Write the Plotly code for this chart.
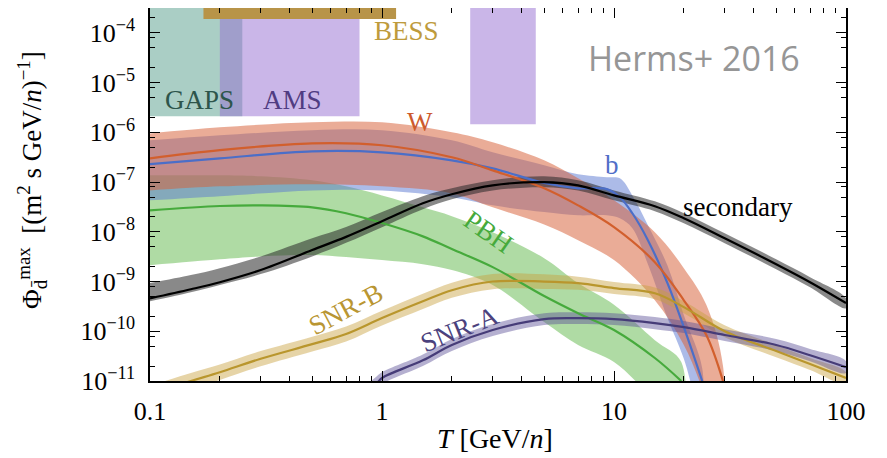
import math
import plotly.graph_objects as go

# ---------------- data (T in GeV/n, flux in (m^2 s GeV/n)^-1) ----------------
sec_T = [0.1, 0.15, 0.2, 0.3, 0.5, 0.7, 1, 1.5, 2, 3, 5, 7, 10, 15, 20, 30, 50, 70, 100]
sec_mid = [4.6e-10, 7.0e-10, 9.7e-10, 1.7e-9, 4.3e-9, 7.9e-9, 1.63e-8, 3.75e-8, 5.7e-8, 8.6e-8,
           1.0e-7, 8.6e-8, 5.4e-8, 3.27e-8, 1.87e-8, 7.4e-9, 2.23e-9, 9.7e-10, 3.7e-10]
sec_hi = [9.3e-10, 1.35e-9, 1.86e-9, 3.2e-9, 7.4e-9, 1.25e-8, 2.5e-8, 5.2e-8, 7.5e-8, 1.09e-7,
          1.31e-7, 1.09e-7, 6.8e-8, 4.1e-8, 2.36e-8, 9.3e-9, 2.8e-9, 1.22e-9, 4.6e-10]
sec_lo = [4.0e-10, 6.1e-10, 8.5e-10, 1.41e-9, 3.2e-9, 6.0e-9, 1.24e-8, 2.85e-8, 4.5e-8, 6.8e-8,
          7.9e-8, 6.8e-8, 4.3e-8, 2.6e-8, 1.48e-8, 5.9e-9, 1.77e-9, 7.7e-10, 2.9e-10]

W_T = [0.1, 0.2, 0.5, 1, 2, 3, 5, 7, 10, 15, 20, 25, 29.5]
W_mid = [3.0e-7, 4.4e-7, 6.0e-7, 5.5e-7, 3.15e-7, 1.72e-7, 7.5e-8, 3.4e-8, 1.24e-8, 2.45e-9,
         4.2e-10, 8.4e-11, 1.0e-11]
W_hi = [9.5e-7, 1.26e-6, 1.59e-6, 1.59e-6, 1.0e-6, 6.3e-7, 2.74e-7, 1.19e-7, 4.3e-8, 9.8e-9,
        1.86e-9, 3.4e-10, 2.0e-11]
W_lo = [6.8e-8, 8.2e-8, 9.0e-8, 8.2e-8, 5.9e-8, 3.1e-8, 1.4e-8, 6.8e-9, 2.7e-9, 4.2e-10,
        5.3e-11, 4.2e-12, 4e-13]

b_T = [0.1, 0.2, 0.5, 1, 2, 3, 5, 7, 9.3, 10.6, 12, 14, 17, 20, 24]
b_mid = [2.3e-7, 3.0e-7, 4.15e-7, 3.96e-7, 2.74e-7, 1.89e-7, 9.6e-8, 7.5e-8, 7.2e-8, 4.95e-8,
         2.36e-8, 6.8e-9, 9.3e-10, 1.21e-10, 1.0e-11]
b_hi = [6.9e-7, 8.7e-7, 1.1e-6, 1.1e-6, 6.9e-7, 3.96e-7, 2.17e-7, 1.43e-7, 1.25e-7, 1.19e-7,
        5.4e-8, 1.36e-8, 2.1e-9, 2.1e-10, 1.8e-11]
b_lo = [4.3e-8, 5.2e-8, 6.8e-8, 6.8e-8, 4.95e-8, 3.4e-8, 2.5e-8, 2.15e-8, 2.15e-8, 1.87e-8,
        1.18e-8, 2.23e-9, 1.84e-10, 2.8e-11, 1.6e-12]

PBH_T = [0.1, 0.2, 0.3, 0.5, 0.7, 1, 1.5, 2, 3, 5, 7, 10, 15, 19.5]
PBH_mid = [2.7e-8, 3.3e-8, 3.4e-8, 3.1e-8, 2.36e-8, 1.5e-8, 8.1e-9, 4.5e-9, 1.95e-9, 5.1e-10,
           2.3e-10, 1.06e-10, 2.9e-11, 1.0e-11]
PBH_hi = [1.37e-7, 1.37e-7, 1.31e-7, 1.09e-7, 8.2e-8, 5.4e-8, 3.1e-8, 2.06e-8, 9.8e-9, 2.95e-9,
          9.3e-10, 3.4e-10, 6.6e-11, 2.4e-11]
PBH_lo = [2.13e-9, 2.8e-9, 3.2e-9, 3.4e-9, 3.1e-9, 2.7e-9, 2.23e-9, 1.7e-9, 8.5e-10, 1.53e-10,
          5.3e-11, 2.4e-11, 4.2e-12, 1.6e-12]

SNRB_T = [0.1, 0.15, 0.2, 0.3, 0.5, 0.7, 1, 1.5, 2, 3, 5, 7, 10, 15, 20, 30, 50, 70, 100]
SNRB_mid = [5.5e-12, 1.0e-11, 1.5e-11, 2.8e-11, 5.5e-11, 8.8e-11, 1.84e-10, 4.0e-10, 6.7e-10, 1.0e-9,
            1.0e-9, 9.3e-10, 7.4e-10, 5.8e-10, 3.06e-10, 1.0e-10, 4.0e-11, 2.2e-11, 1.15e-11]
SNRB_hi = [8e-12, 1.45e-11, 2.15e-11, 4.0e-11, 7.8e-11, 1.25e-10, 2.6e-10, 5.7e-10, 9.5e-10, 1.42e-9,
           1.4e-9, 1.25e-9, 9.8e-10, 7.6e-10, 4.0e-10, 1.32e-10, 5.3e-11, 2.9e-11, 1.5e-11]
SNRB_lo = [3.9e-12, 7.0e-12, 1.05e-11, 1.97e-11, 3.9e-11, 6.2e-11, 1.3e-10, 2.8e-10, 4.7e-10, 7.0e-10,
           7.1e-10, 6.8e-10, 5.6e-10, 4.4e-10, 2.3e-10, 7.6e-11, 3.0e-11, 1.67e-11, 8.7e-12]

SNRA_T = [0.85, 0.95, 1, 1.5, 2, 3, 5, 7, 10, 15, 20, 30, 50, 70, 100]
SNRA_mid = [6e-12, 9e-12, 1.15e-11, 2.6e-11, 5.3e-11, 1.06e-10, 1.76e-10, 1.84e-10, 1.76e-10,
            1.46e-10, 1.21e-10, 8.4e-11, 5.3e-11, 3.3e-11, 1.9e-11]
SNRA_hi = [8e-12, 1.25e-11, 1.5e-11, 3.4e-11, 7.0e-11, 1.4e-10, 2.3e-10, 2.4e-10, 2.3e-10,
           1.93e-10, 1.6e-10, 1.1e-10, 7.0e-11, 4.4e-11, 2.5e-11]
SNRA_lo = [4.5e-12, 6.8e-12, 8.7e-12, 2.0e-11, 4.0e-11, 8.0e-11, 1.33e-10, 1.4e-10, 1.33e-10,
           1.1e-10, 9.2e-11, 6.4e-11, 4.0e-11, 2.5e-11, 1.45e-11]

# experiment sensitivity regions
box_names = ["GAPS", "AMS", "AMS", "BESS"]
box_T_min = [0.1, 0.2, 2.4, 0.17]
box_T_max = [0.25, 0.8, 4.6, 1.15]
box_phi_min = [2.1e-6, 2.1e-6, 1.45e-6, 1.9e-4]
box_phi_max = [1e-3, 1e-3, 1e-3, 1e-3]

x_tick_vals = [0.1, 1, 10, 100]
x_tick_text = ["0.1", "1", "10", "100"]
y_tick_exps = [-11, -10, -9, -8, -7, -6, -5, -4]

# ---------------- styling ----------------
SERIF = "Liberation Serif"
SMOOTH = 1.0
box_colors = {"GAPS": "rgba(100,165,150,0.55)", "AMS": "rgba(150,110,210,0.5)",
              "BESS": "rgb(184,148,72)"}

fig = go.Figure()

for name, x0, x1, y0, y1 in zip(box_names, box_T_min, box_T_max, box_phi_min, box_phi_max):
    fig.add_trace(go.Scatter(x=[x0, x1, x1, x0, x0], y=[y0, y0, y1, y1, y0], mode="lines",
                             fill="toself", fillcolor=box_colors[name], line=dict(width=0),
                             hoverinfo="skip", showlegend=False))

curves = [
    # (name, T, mid, hi, lo, band colour, line colour)
    ("PBH", PBH_T, PBH_mid, PBH_hi, PBH_lo, "rgba(110,190,90,0.55)", "rgb(70,170,60)"),
    ("b", b_T, b_mid, b_hi, b_lo, "rgba(90,120,210,0.5)", "rgb(75,110,200)"),
    ("W", W_T, W_mid, W_hi, W_lo, "rgba(215,95,55,0.52)", "rgb(210,95,45)"),
    ("secondary", sec_T, sec_mid, sec_hi, sec_lo, "rgba(40,40,40,0.55)", "black"),
    ("SNR-B", SNRB_T, SNRB_mid, SNRB_hi, SNRB_lo, "rgba(200,160,60,0.45)", "rgb(185,150,45)"),
    ("SNR-A", SNRA_T, SNRA_mid, SNRA_hi, SNRA_lo, "rgba(90,80,150,0.45)", "rgb(70,60,120)"),
]

for name, T, mid, hi, lo, bc, lc in curves:
    fig.add_trace(go.Scatter(x=list(T) + list(T)[::-1], y=list(hi) + list(lo)[::-1],
                             mode="lines", fill="toself", fillcolor=bc,
                             line=dict(width=0, shape="spline", smoothing=SMOOTH),
                             hoverinfo="skip", showlegend=False))
for name, T, mid, hi, lo, bc, lc in curves:
    fig.add_trace(go.Scatter(x=T, y=mid, mode="lines", name=name,
                             line=dict(color=lc, width=2.2, shape="spline", smoothing=SMOOTH),
                             showlegend=False))

def ann(text, x, y, color, size=27, angle=0, family=SERIF):
    fig.add_annotation(text=text, x=math.log10(x), y=math.log10(y), xref="x", yref="y",
                       showarrow=False, textangle=angle,
                       font=dict(family=family, size=size, color=color))

ann("GAPS", 0.163, 4.4e-6, "rgb(45,85,75)")
ann("AMS", 0.41, 4.4e-6, "rgb(80,60,130)")
ann("BESS", 1.28, 1.07e-4, "rgb(190,155,60)")
ann("W", 1.46, 1.6e-6, "rgb(205,90,45)")
ann("b", 9.8, 2.2e-7, "rgb(80,110,200)")
ann("PBH", 2.87, 9.8e-9, "rgb(70,170,60)", angle=35)
ann("SNR-B", 0.70, 2.8e-10, "rgb(185,150,50)", angle=-28)
ann("SNR-A", 2.17, 1.1e-10, "rgb(75,65,125)", angle=-22)
ann("secondary", 34.3, 3.1e-8, "black")
ann("Herms+ 2016", 22.2, 3.06e-5, "rgb(150,150,150)", size=34, family="Open Sans")

# axis titles
fig.add_annotation(text="Φ<sub>d̄</sub><sup>max</sup>  [(m<sup>2</sup> s GeV/<i>n</i>)<sup>−1</sup>]",
                   xref="paper", yref="paper", x=-0.1695, y=0.539, textangle=-90,
                   showarrow=False, xanchor="center", yanchor="middle",
                   font=dict(family=SERIF, size=27, color="black"))
fig.add_annotation(text="<i>T</i> [GeV/<i>n</i>]", xref="paper", yref="paper",
                   x=0.4957, y=-0.155, showarrow=False, xanchor="center", yanchor="middle",
                   font=dict(family=SERIF, size=28, color="black"))

x_minor = [m * 10.0 ** e for e in (-1, 0, 1) for m in range(2, 10)]
y_minor = [m * 10.0 ** e for e in range(-11, -3) for m in (2, 5, 8)]

axis_common = dict(type="log", showline=True, linecolor="black", linewidth=1.6,
                   mirror="allticks", ticks="inside", ticklen=10, tickwidth=1.3,
                   tickcolor="black", showgrid=False, zeroline=False, automargin=False,
                   tickfont=dict(family=SERIF, size=26, color="black"))

fig.update_xaxes(range=[-1, 2], tickmode="array", tickvals=x_tick_vals, ticktext=x_tick_text,
                 minor=dict(tickmode="array", tickvals=x_minor, ticks="inside", ticklen=5,
                            tickwidth=1.1, tickcolor="black", showgrid=False),
                 ticklabelstandoff=6, **axis_common)
fig.update_yaxes(range=[-11, -3.5], tickmode="array",
                 tickvals=[10.0 ** e for e in y_tick_exps],
                 ticktext=["10<sup>−%d</sup>" % (-e) for e in y_tick_exps],
                 minor=dict(tickmode="array", tickvals=y_minor, ticks="inside", ticklen=5,
                            tickwidth=1.1, tickcolor="black", showgrid=False),
                 ticklabelstandoff=8, **axis_common)

# the page body adds an 8px margin (top/left), so the figure fills the rest of the window
fig.update_layout(width=879, height=450, margin=dict(l=142, r=41, t=0, b=77),
                  paper_bgcolor="white", plot_bgcolor="white", showlegend=False,
                  font=dict(family=SERIF, color="black"))

fig.write_html("out.html")
